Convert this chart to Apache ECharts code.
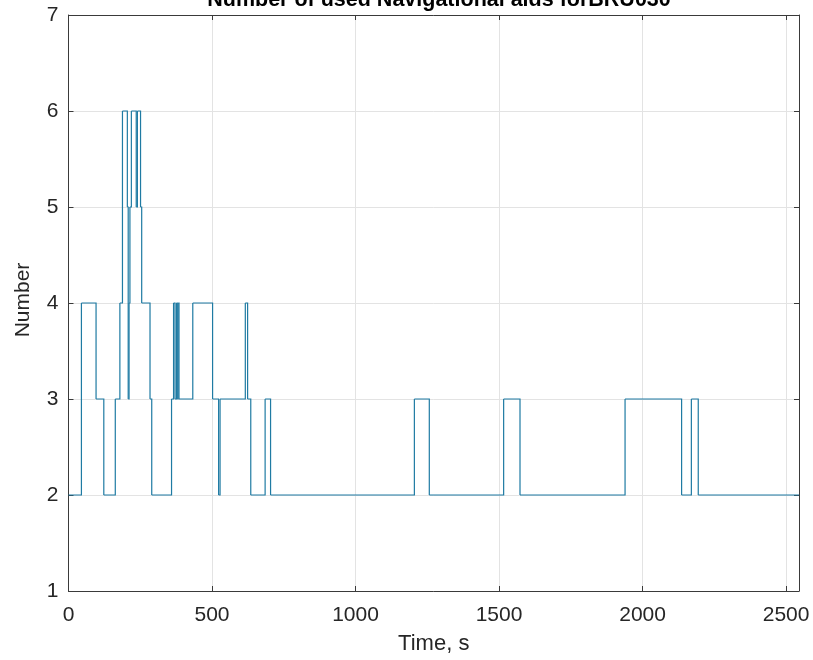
<!DOCTYPE html>
<html>
<head>
<meta charset="utf-8">
<script src="https://cdn.jsdelivr.net/npm/echarts@6/dist/echarts.min.js"></script>
<style>html,body{margin:0;padding:0;background:#fff;}#c{width:813px;height:660px;}</style>
</head>
<body>
<div id="c"></div>
<script>
// Time (s) at which the number changes, and the new value from that time on
var changeTimes = [0, 45, 96, 123, 163, 179, 188, 205, 208, 211, 214, 219, 236, 240, 251, 255,
  284, 290, 359, 366, 371, 376, 379, 382, 385, 433, 502, 523, 528, 616, 624, 635, 685, 704,
  1205, 1257, 1516, 1573, 1939, 2136, 2170, 2194, 2545];
var numberValues = [2, 4, 3, 2, 3, 4, 6, 5, 3, 4, 5, 6, 5, 6, 5, 4,
  3, 2, 3, 4, 3, 4, 3, 4, 3, 4, 3, 2, 3, 4, 3, 2, 3, 2,
  3, 2, 3, 2, 3, 2, 3, 2, 2];
var xTicks = [0, 500, 1000, 1500, 2000, 2500];
var yTicks = [1, 2, 3, 4, 5, 6, 7];

// one step per item: [start time, end time, value, next value]
var steps = [];
for (var i = 0; i < changeTimes.length - 1; i++) {
  steps.push([changeTimes[i], changeTimes[i + 1], numberValues[i], numberValues[i + 1]]);
}
var axisColor = '#3a3a3a';
var font = 'Liberation Sans, Arial, Helvetica, sans-serif';

var chart = echarts.init(document.getElementById('c'), null, {renderer: 'canvas'});
chart.setOption({
  animation: false,
  backgroundColor: '#ffffff',
  title: {
    text: 'Number of used Navigational aids forBRU030',
    left: 434, textAlign: 'center', top: -16,
    textStyle: {fontFamily: font, fontSize: 21.5, fontWeight: 'bold', color: '#000'}
  },
  graphic: [{
    type: 'text', x: 23, y: 300, rotation: Math.PI / 2,
    style: {text: 'Number', fontFamily: font, fontSize: 21, fill: '#262626',
      align: 'center', verticalAlign: 'middle'}
  }],
  grid: {left: 68.5, right: 14, top: 15, bottom: 67.5},
  xAxis: [{
    type: 'value', min: 0, max: 2545, interval: 500,
    name: 'Time, s', nameLocation: 'middle', nameGap: 42,
    nameTextStyle: {fontFamily: font, fontSize: 22, color: '#262626'},
    axisLine: {show: true, onZero: false, lineStyle: {color: axisColor, width: 1}},
    axisTick: {show: true, inside: true, length: 5, lineStyle: {color: axisColor}},
    axisLabel: {fontFamily: font, fontSize: 21, color: '#262626', margin: 14,
      formatter: function (v) { return xTicks.indexOf(v) >= 0 ? String(v) : ''; }},
    splitLine: {show: true, lineStyle: {color: '#e3e3e3', width: 1}}
  }, {
    type: 'value', min: 0, max: 2545, interval: 500, position: 'top',
    axisLine: {show: true, onZero: false, lineStyle: {color: axisColor, width: 1}},
    axisTick: {show: true, inside: true, length: 5, lineStyle: {color: axisColor}},
    axisLabel: {show: false}, splitLine: {show: false}
  }],
  yAxis: [{
    type: 'value', min: 1, max: 7, interval: 1,
    axisLine: {show: true, onZero: false, lineStyle: {color: axisColor, width: 1}},
    axisTick: {show: true, inside: true, length: 5, lineStyle: {color: axisColor}},
    axisLabel: {fontFamily: font, fontSize: 21, color: '#262626', margin: 10,
      formatter: function (v) { return yTicks.indexOf(v) >= 0 ? String(v) : ''; }},
    splitLine: {show: true, lineStyle: {color: '#e3e3e3', width: 1}}
  }, {
    type: 'value', min: 1, max: 7, interval: 1, position: 'right',
    axisLine: {show: true, onZero: false, lineStyle: {color: axisColor, width: 1}},
    axisTick: {show: true, inside: true, length: 5, lineStyle: {color: axisColor}},
    axisLabel: {show: false}, splitLine: {show: false}
  }],
  series: [{
    type: 'custom', data: steps, xAxisIndex: 0, yAxisIndex: 0,
    encode: {x: [0, 1], y: [2, 3]},
    renderItem: function (params, api) {
      var p0 = api.coord([api.value(0), api.value(2)]);
      var p1 = api.coord([api.value(1), api.value(2)]);
      var p2 = api.coord([api.value(1), api.value(3)]);
      return {
        type: 'polyline',
        shape: {points: [p0, p1, p2]},
        style: {stroke: '#1f7ba3', lineWidth: 1.2, fill: null}
      };
    }
  }]
});
</script>
</body>
</html>
